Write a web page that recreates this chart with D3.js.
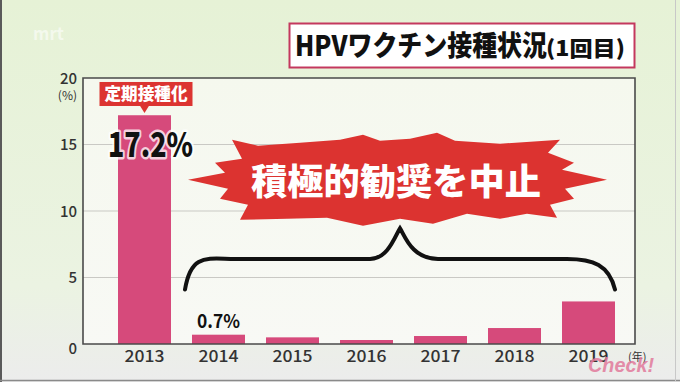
<!DOCTYPE html>
<html>
<head>
<meta charset="utf-8">
<script src="https://cdn.jsdelivr.net/npm/d3@7"></script>
<style>
  html, body { margin: 0; padding: 0; background: #e9f2dd; }
  svg { display: block; font-family: "Noto Sans CJK JP", "Noto Sans", sans-serif; }
</style>
</head>
<body>
<div id="chart"></div>
<script>
// data
const years = ["2013", "2014", "2015", "2016", "2017", "2018", "2019"];
const rates = [17.2, 0.7, 0.5, 0.3, 0.6, 1.2, 3.2];
const yTicks = [0, 5, 10, 15, 20];
const titleMain = "HPVワクチン接種状況";
const titleSub = "(1回目)";
const badgeText = "定期接種化";
const calloutText = "積極的勧奨を中止";
const labelled = { "2013": "17.2%", "2014": "0.7%" };

const W = 680, H = 382;
const frame = { left: 83, top: 78, right: 635, bottom: 344 };

const svg = d3.select("#chart")
  .append("svg")
    .attr("width", W)
    .attr("height", H);

const defs = svg.append("defs");
const bg = defs.append("linearGradient").attr("id", "bg").attr("x1", 0).attr("y1", 0).attr("x2", 0).attr("y2", 1);
bg.append("stop").attr("offset", "0%").attr("stop-color", "#e6f2d6");
bg.append("stop").attr("offset", "75%").attr("stop-color", "#ebf3e2");
bg.append("stop").attr("offset", "100%").attr("stop-color", "#ececec");
const inner = defs.append("linearGradient").attr("id", "inner").attr("x1", 0).attr("y1", 0).attr("x2", 0).attr("y2", 1);
inner.append("stop").attr("offset", "0%").attr("stop-color", "#f5f8ee");
inner.append("stop").attr("offset", "100%").attr("stop-color", "#f8f9f5");

// background
svg.append("rect").attr("width", W).attr("height", H).attr("fill", "url(#bg)");
svg.append("line").attr("x1", 1).attr("x2", 1).attr("y1", 0).attr("y2", H).attr("stroke", "#5a5a5a").attr("stroke-width", 2);
svg.append("line").attr("x1", 0).attr("x2", W).attr("y1", 380.5).attr("y2", 380.5).attr("stroke", "#8a8a8a").attr("stroke-width", 1.5);
svg.append("line").attr("x1", 675.5).attr("x2", 675.5).attr("y1", 0).attr("y2", 381).attr("stroke", "#c8c8c8").attr("stroke-width", 1);

svg.append("text")
  .attr("x", 33).attr("y", 40)
  .attr("fill", "#ffffff").attr("opacity", 0.55)
  .style("font-size", "17px").style("font-weight", 700)
  .text("mrt");

// scales
const x = d3.scaleBand()
  .domain(years)
  .range([107.5, 625.5])
  .paddingInner(0.284)
  .paddingOuter(0.142);

const y = d3.scaleLinear()
  .domain([0, 20])
  .range([frame.bottom, frame.top]);

// plot area
svg.append("rect")
  .attr("x", frame.left).attr("y", frame.top)
  .attr("width", frame.right - frame.left)
  .attr("height", frame.bottom - frame.top)
  .attr("fill", "url(#inner)");

// gridlines
svg.selectAll(".grid")
  .data(yTicks.filter(d => d > 0 && d < 20))
  .join("line")
    .attr("class", "grid")
    .attr("x1", frame.left).attr("x2", frame.right)
    .attr("y1", d => y(d)).attr("y2", d => y(d))
    .attr("stroke", "#c9c9c4").attr("stroke-width", 1);

// y axis labels
const yAxis = svg.append("g")
  .attr("transform", `translate(${frame.left},0)`)
  .call(d3.axisLeft(y).tickValues(yTicks).tickSize(0).tickPadding(6));
yAxis.select(".domain").remove();
yAxis.selectAll("text")
  .attr("fill", "#333")
  .attr("dy", d => d === 0 ? "0.65em" : "0.35em")
  .style("font-family", "'Noto Sans CJK JP', sans-serif")
  .style("font-size", "15px")
  .style("font-weight", 500);

svg.append("text")
  .attr("x", frame.left - 6).attr("y", y(20) + 22)
  .attr("text-anchor", "end")
  .attr("fill", "#333")
  .style("font-size", "12px")
  .text("(%)");

// bars
svg.selectAll(".bar")
  .data(years)
  .join("rect")
    .attr("class", "bar")
    .attr("x", d => x(d))
    .attr("width", x.bandwidth())
    .attr("y", (d, i) => y(rates[i]))
    .attr("height", (d, i) => y(0) - y(rates[i]))
    .attr("fill", "#d64a7b");

// frame
svg.append("path")
  .attr("d", `M${frame.left},${frame.bottom}V${frame.top}H${frame.right}V${frame.bottom}Z`)
  .attr("fill", "none")
  .attr("stroke", "#4a4a4a")
  .attr("stroke-width", 1.6);

// x axis labels
const xAxis = svg.append("g")
  .attr("transform", `translate(0,${frame.bottom})`)
  .call(d3.axisBottom(x).tickSize(0).tickPadding(7));
xAxis.select(".domain").remove();
xAxis.selectAll("text")
  .attr("fill", "#333")
  .attr("textLength", 40).attr("lengthAdjust", "spacingAndGlyphs")
  .style("font-family", "'Noto Sans CJK JP', sans-serif")
  .style("font-size", "16px")
  .style("font-weight", 500);

svg.append("text")
  .attr("x", frame.right - 7).attr("y", 361)
  .attr("fill", "#333")
  .style("font-size", "11px")
  .text("(年)");

// value labels
svg.append("text")
  .attr("x", x("2013") + x.bandwidth() / 2 + 6)
  .attr("y", y(15) + 12)
  .attr("text-anchor", "middle")
  .attr("fill", "#111")
  .attr("stroke", "#ffffff").attr("stroke-width", 5).attr("stroke-opacity", 0.75)
  .attr("stroke-linejoin", "round")
  .attr("paint-order", "stroke")
  .attr("textLength", 85).attr("lengthAdjust", "spacingAndGlyphs")
  .style("font-size", "34px").style("font-weight", 900)
  .text(labelled["2013"]);

svg.append("text")
  .attr("x", x("2014") + x.bandwidth() / 2)
  .attr("y", y(rates[1]) - 7)
  .attr("text-anchor", "middle")
  .attr("fill", "#111")
  .attr("textLength", 43).attr("lengthAdjust", "spacingAndGlyphs")
  .style("font-size", "19px").style("font-weight", 700)
  .text(labelled["2014"]);

// badge above 2013 bar
const bx = x("2013") + x.bandwidth() / 2;
const badge = svg.append("g");
badge.append("rect")
  .attr("x", bx - 45).attr("y", y(19.7))
  .attr("width", 93).attr("height", 24)
  .attr("fill", "#dc3431");
badge.append("path")
  .attr("d", `M${bx - 5},${y(19.7) + 23}L${bx},${y(19.7) + 31}L${bx + 5},${y(19.7) + 23}Z`)
  .attr("fill", "#dc3431");
badge.append("text")
  .attr("x", bx + 1.5).attr("y", y(19.7) + 18)
  .attr("text-anchor", "middle")
  .attr("fill", "#fff")
  .attr("textLength", 83).attr("lengthAdjust", "spacingAndGlyphs")
  .style("font-size", "17px").style("font-weight", 900)
  .text(badgeText);

// brace over 2014-2019
const xL = x("2014") - 7, xR = x("2019") + x.bandwidth();
const xM = (xL + xR) / 2;
const yEnd = y(4.1), yBar = y(6.4), yPeak = y(8.7);
svg.append("path")
  .attr("d", `M${xL},${yEnd}
    C${xL + 6},${yBar - 6} ${xL + 22},${yBar} ${xL + 50},${yBar}
    L${xM - 30},${yBar}
    C${xM - 12},${yBar} ${xM - 5},${yPeak + 8} ${xM},${yPeak}
    C${xM + 5},${yPeak + 8} ${xM + 12},${yBar} ${xM + 38},${yBar}
    L${xR - 48},${yBar}
    C${xR - 22},${yBar} ${xR - 6},${yBar + 6} ${xR},${yEnd}`)
  .attr("fill", "none")
  .attr("stroke", "#111")
  .attr("stroke-width", 4)
  .attr("stroke-linecap", "round");

// burst callout
const cx = xM - 2, cy = y(12.35);
const burst = [
  [-210, 0], [-173, -7], [-183, -17], [-156, -21], [-166, -40], [-140, -34],
  [-98, -37], [-58, -40], [-35, -45], [-18, -39], [12, -41], [39, -47],
  [57, -39], [102, -36], [162, -40], [150, -27], [176, -17], [164, -10],
  [209, 0], [167, 9], [176, 19], [152, 25], [159, 38], [129, 34],
  [102, 39], [69, 34], [35, 44], [2, 39], [-35, 46], [-71, 38],
  [-111, 39], [-158, 40], [-150, 25], [-178, 19], [-170, 9]
];
svg.append("path")
  .attr("d", d3.line().curve(d3.curveLinearClosed)(burst.map(p => [cx + p[0], cy + p[1]])))
  .attr("fill", "#dc3330");
svg.append("text")
  .attr("x", cx - 2).attr("y", cy + 15)
  .attr("text-anchor", "middle")
  .attr("fill", "#fff")
  .attr("textLength", 290).attr("lengthAdjust", "spacingAndGlyphs")
  .style("font-size", "36px").style("font-weight", 900)
  .text(calloutText);

// title box
svg.append("rect")
  .attr("x", 289.5).attr("y", 23.5)
  .attr("width", 345).attr("height", 44)
  .attr("fill", "#ffffff")
  .attr("stroke", "#c4385e")
  .attr("stroke-width", 2);
svg.append("text")
  .attr("x", 295).attr("y", 56)
  .attr("fill", "#111")
  .attr("textLength", 252).attr("lengthAdjust", "spacingAndGlyphs")
  .style("font-size", "28px").style("font-weight", 900)
  .text(titleMain);
svg.append("text")
  .attr("x", 546).attr("y", 56)
  .attr("fill", "#111")
  .attr("textLength", 79).attr("lengthAdjust", "spacingAndGlyphs")
  .style("font-size", "21px").style("font-weight", 900)
  .text(titleSub);

// channel logo
svg.append("text")
  .attr("x", 588).attr("y", 372)
  .attr("fill", "#e27a9c").attr("opacity", 0.85)
  .attr("textLength", 66).attr("lengthAdjust", "spacingAndGlyphs")
  .style("font-family", "'Liberation Sans', sans-serif")
  .style("font-size", "20px").style("font-weight", 700).style("font-style", "italic")
  .text("Check!");
</script>
</body>
</html>
